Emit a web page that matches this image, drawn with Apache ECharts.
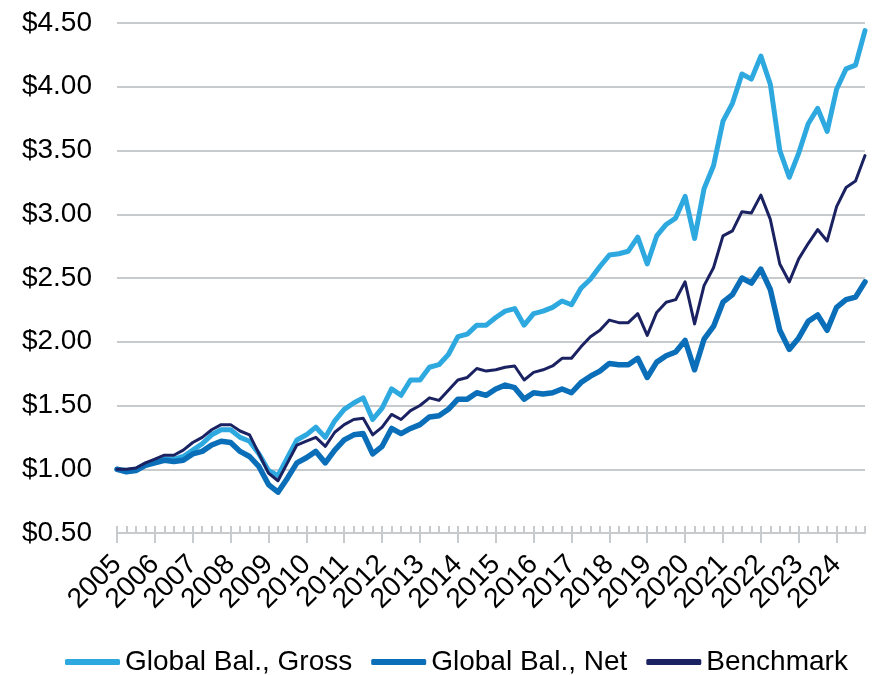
<!DOCTYPE html>
<html>
<head>
<meta charset="utf-8">
<script src="https://cdn.jsdelivr.net/npm/echarts@6/dist/echarts.min.js"></script>
<style>
  html, body { margin: 0; padding: 0; background: #ffffff; }
  #chart { width: 874px; height: 675px; }
</style>
</head>
<body>
<div id="chart"></div>
<script>
// Year tick labels; each year holds four quarterly observations
const years = ['2005','2006','2007','2008','2009','2010','2011','2012','2013','2014',
               '2015','2016','2017','2018','2019','2020','2021','2022','2023','2024'];
const quarters = ['Q1','Q2','Q3','Q4'];

// Growth of $1, quarterly
const grossValues = [
  1.00, 0.99, 1.00, 1.04, 1.06, 1.08, 1.08, 1.10, 1.15, 1.20,
  1.27, 1.31, 1.31, 1.25, 1.22, 1.12, 0.99, 0.95, 1.09, 1.23,
  1.27, 1.33, 1.25, 1.38, 1.47, 1.52, 1.56, 1.39, 1.48, 1.63,
  1.58, 1.70, 1.70, 1.80, 1.82, 1.90, 2.04, 2.06, 2.13, 2.13,
  2.19, 2.24, 2.26, 2.13, 2.22, 2.24, 2.27, 2.32, 2.29, 2.42,
  2.49, 2.59, 2.68, 2.69, 2.71, 2.82, 2.61, 2.83, 2.92, 2.97,
  3.14, 2.81, 3.20, 3.38, 3.73, 3.87, 4.10, 4.06, 4.24, 4.02,
  3.50, 3.29, 3.48, 3.71, 3.83, 3.65, 3.98, 4.14, 4.17, 4.44
];
const netValues = [
  1.00, 0.98, 0.99, 1.03, 1.05, 1.07, 1.06, 1.07, 1.12, 1.14,
  1.19, 1.22, 1.21, 1.14, 1.10, 1.02, 0.88, 0.82, 0.93, 1.05,
  1.09, 1.14, 1.05, 1.15, 1.23, 1.27, 1.28, 1.12, 1.18, 1.32,
  1.28, 1.32, 1.35, 1.41, 1.42, 1.47, 1.55, 1.55, 1.60, 1.58,
  1.63, 1.66, 1.64, 1.55, 1.60, 1.59, 1.60, 1.63, 1.60, 1.68,
  1.73, 1.77, 1.83, 1.82, 1.82, 1.87, 1.72, 1.84, 1.89, 1.92,
  2.01, 1.78, 2.02, 2.12, 2.31, 2.37, 2.50, 2.46, 2.57, 2.41,
  2.09, 1.94, 2.03, 2.16, 2.21, 2.09, 2.27, 2.33, 2.35, 2.47
];
const benchmarkValues = [
  1.00, 1.00, 1.01, 1.05, 1.08, 1.11, 1.11, 1.15, 1.21, 1.25,
  1.31, 1.35, 1.35, 1.30, 1.27, 1.12, 0.97, 0.91, 1.05, 1.19,
  1.22, 1.25, 1.18, 1.29, 1.35, 1.39, 1.40, 1.27, 1.33, 1.43,
  1.39, 1.46, 1.50, 1.56, 1.54, 1.62, 1.70, 1.72, 1.79, 1.77,
  1.78, 1.80, 1.81, 1.70, 1.76, 1.78, 1.81, 1.87, 1.87, 1.96,
  2.04, 2.09, 2.17, 2.15, 2.15, 2.22, 2.05, 2.23, 2.31, 2.33,
  2.47, 2.14, 2.44, 2.58, 2.83, 2.87, 3.02, 3.01, 3.15, 2.96,
  2.61, 2.47, 2.65, 2.77, 2.88, 2.79, 3.06, 3.21, 3.26, 3.46
];

const seriesNames = ['Global Bal., Gross', 'Global Bal., Net', 'Benchmark'];
const colors = ['#2ea9e0', '#0a6fb8', '#1b2262'];

// One category per quarter, labelled by year on the first quarter
const categories = [];
years.forEach(y => quarters.forEach(q => categories.push(y + ' ' + q)));
const perYear = quarters.length;
const isYearStart = index => index % perYear === 0;
// Year labels are split over two axes (alternate years) so the rotated
// labels are not thinned out by the overlap check
const isEvenYear = index => index % (2 * perYear) === 0;
const isOddYear = index => index % (2 * perYear) === perYear;

const FONT = '"Liberation Sans", Arial, Helvetica, sans-serif';
const axisGray = '#c8cbce';

const yearLabel = interval => ({
  show: true,
  interval: interval,
  showMinLabel: true,
  showMaxLabel: true,
  rotate: 45,
  margin: 27,
  fontFamily: FONT,
  fontSize: 28,
  color: '#000000',
  formatter: v => v.split(' ')[0]
});

const chart = echarts.init(document.getElementById('chart'), null, { renderer: 'canvas' });

chart.setOption({
  animation: false,
  backgroundColor: '#ffffff',
  textStyle: { fontFamily: FONT },
  grid: { left: 117, right: 9, top: 23, bottom: 142, containLabel: false },
  legend: {
    data: seriesNames,
    left: 65,
    top: 648,
    padding: 0,
    icon: 'roundRect',
    itemWidth: 55,
    itemHeight: 6,
    itemGap: 19,
    textStyle: { fontFamily: FONT, fontSize: 28, color: '#000000' }
  },
  xAxis: [
    {
      // quarterly minor ticks
      type: 'category',
      data: categories,
      boundaryGap: false,
      position: 'bottom',
      axisLine: { show: true, lineStyle: { color: axisGray, width: 2 } },
      axisTick: { show: true, inside: true, length: 7, interval: 0, lineStyle: { color: axisGray, width: 2 } },
      axisLabel: { show: false },
      splitLine: { show: false }
    },
    {
      // yearly major ticks, labels for 2005, 2007, ...
      type: 'category',
      data: categories,
      boundaryGap: false,
      position: 'bottom',
      offset: 0,
      axisLine: { show: false },
      axisTick: { show: true, inside: false, length: 10, interval: isYearStart, lineStyle: { color: axisGray, width: 2 } },
      axisLabel: yearLabel(isEvenYear),
      splitLine: { show: false }
    },
    {
      // labels for 2006, 2008, ...
      type: 'category',
      data: categories,
      boundaryGap: false,
      position: 'bottom',
      offset: 0,
      axisLine: { show: false },
      axisTick: { show: false },
      axisLabel: yearLabel(isOddYear),
      splitLine: { show: false }
    }
  ],
  yAxis: {
    type: 'value',
    min: 0.5,
    max: 4.5,
    interval: 0.5,
    axisLine: { show: false },
    axisTick: { show: false },
    axisLabel: {
      margin: 25,
      fontFamily: FONT,
      fontSize: 28,
      color: '#000000',
      formatter: v => '$' + v.toFixed(2)
    },
    splitLine: { show: true, lineStyle: { color: axisGray, width: 2 } }
  },
  series: [
    {
      name: seriesNames[0], type: 'line', data: grossValues, xAxisIndex: 0,
      symbol: 'none', color: colors[0],
      lineStyle: { width: 5, color: colors[0], cap: 'round', join: 'round' }
    },
    {
      name: seriesNames[1], type: 'line', data: netValues, xAxisIndex: 0,
      symbol: 'none', color: colors[1],
      lineStyle: { width: 5.5, color: colors[1], cap: 'round', join: 'round' }
    },
    {
      name: seriesNames[2], type: 'line', data: benchmarkValues, xAxisIndex: 0,
      symbol: 'none', color: colors[2],
      lineStyle: { width: 3, color: colors[2], cap: 'round', join: 'round' }
    }
  ]
});
</script>
</body>
</html>
